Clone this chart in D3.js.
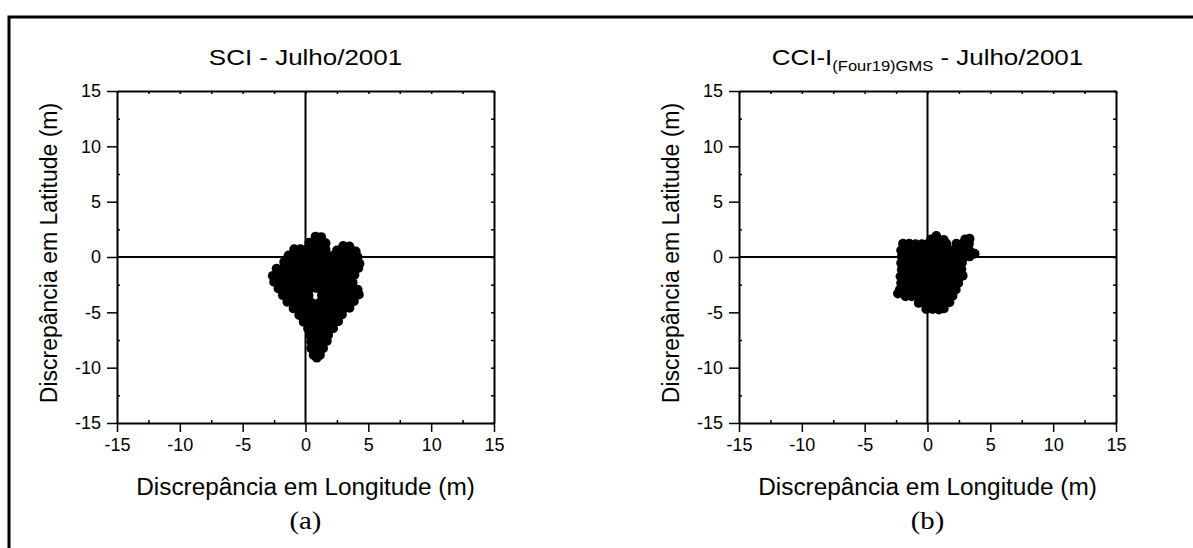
<!DOCTYPE html>
<html>
<head>
<meta charset="utf-8">
<script src="https://cdn.jsdelivr.net/npm/d3@7"></script>
<style>
  html, body { margin: 0; padding: 0; background: #fff; }
  svg { display: block; }
</style>
</head>
<body>
<svg id="chart" width="1193" height="548"></svg>
<script>
// Discrepancies in longitude / latitude (m), July 2001
const sciPoints = [
  [0.8,1.85],[1.25,1.8],
  [0.3,1.3],[0.75,1.3],[1.25,1.3],[1.6,1.25],
  [3.0,1.0],[3.5,0.95],
  [-0.9,0.7],[-0.4,0.7],[0.1,0.7],[0.6,0.7],[1.1,0.7],[1.6,0.65],[2.5,0.6],[3.0,0.6],[3.5,0.55],[4.0,0.5],
  [-1.35,0.15],[-0.85,0.15],[-0.35,0.15],[0.15,0.15],[0.65,0.15],[1.15,0.15],[1.65,0.15],[2.15,0.1],[2.65,0.15],[3.15,0.15],[3.65,0.1],[4.15,0.0],
  [-1.7,-0.45],[-1.2,-0.45],[-0.7,-0.45],[-0.2,-0.45],[0.3,-0.45],[0.8,-0.45],[1.3,-0.45],[1.8,-0.45],[2.3,-0.45],[2.8,-0.45],[3.3,-0.45],[3.8,-0.45],[4.3,-0.6],
  [-2.3,-1.05],[-1.8,-1.05],[-1.3,-1.05],[-0.8,-1.05],[-0.3,-1.05],[0.2,-1.05],[0.7,-1.05],[1.2,-1.05],[1.7,-1.05],[2.2,-1.05],[2.7,-1.05],[3.2,-1.05],[3.7,-1.05],[4.2,-1.0],
  [-2.6,-1.7],[-2.05,-1.65],[-1.55,-1.65],[-1.05,-1.65],[-0.55,-1.65],[-0.05,-1.65],[0.45,-1.65],[0.95,-1.65],[1.45,-1.65],[1.95,-1.65],[2.45,-1.65],[2.95,-1.65],[3.45,-1.65],[3.9,-1.6],
  [-2.5,-2.25],[-2.0,-2.25],[-1.5,-2.25],[-1.0,-2.25],[-0.5,-2.25],[0.0,-2.25],[0.5,-2.25],[1.0,-2.25],[1.5,-2.25],[2.0,-2.25],[2.5,-2.25],[3.0,-2.25],[3.5,-2.25],[3.75,-2.3],
  [-2.15,-2.85],[-1.65,-2.85],[-1.15,-2.85],[-0.65,-2.85],[-0.15,-2.85],[0.35,-2.85],[0.85,-2.8],[1.35,-2.85],[1.85,-2.85],[2.35,-2.85],[2.85,-2.85],[3.35,-2.85],[3.85,-2.85],[4.15,-2.95],
  [-1.8,-3.45],[-1.3,-3.45],[-0.8,-3.45],[-0.3,-3.45],[0.25,-3.45],[1.3,-3.45],[1.8,-3.45],[2.3,-3.45],[2.8,-3.45],[3.3,-3.45],[3.8,-3.45],[4.25,-3.4],
  [-1.45,-4.05],[-0.95,-4.05],[-0.45,-4.05],[0.05,-4.05],[0.5,-4.15],[1.1,-4.15],[1.6,-4.05],[2.05,-4.05],[2.55,-4.05],[3.05,-4.05],[3.55,-4.05],[3.85,-4.0],
  [-0.95,-4.65],[-0.45,-4.65],[0.05,-4.65],[0.55,-4.7],[1.05,-4.7],[1.55,-4.65],[2.05,-4.65],[2.55,-4.65],[3.05,-4.65],[3.5,-4.6],
  [-0.5,-5.25],[0.0,-5.25],[0.5,-5.25],[1.0,-5.25],[1.5,-5.25],[2.0,-5.25],[2.5,-5.25],[2.9,-5.2],
  [-0.15,-5.85],[0.35,-5.85],[0.85,-5.85],[1.35,-5.85],[1.85,-5.85],[2.35,-5.85],[2.6,-5.8],
  [0.2,-6.45],[0.7,-6.45],[1.2,-6.45],[1.7,-6.45],[2.2,-6.45],
  [0.35,-7.05],[0.85,-7.05],[1.35,-7.05],[1.8,-7.05],
  [0.45,-7.65],[0.95,-7.65],[1.45,-7.65],[1.7,-7.6],
  [0.45,-8.25],[0.95,-8.25],[1.4,-8.25],
  [0.65,-8.85],[1.15,-8.85],
  [0.9,-9.1]
];

const cciPoints = [
  [0.7,1.9],
  [0.3,1.6],[0.8,1.6],[1.3,1.55],[3.0,1.6],[3.35,1.65],
  [-1.95,1.2],[-1.45,1.2],[-0.95,1.15],[-0.45,1.15],[0.05,1.2],[0.55,1.2],[1.05,1.2],[1.5,1.2],[2.3,1.2],[2.8,1.2],[3.3,1.2],
  [-2.1,0.6],[-1.6,0.6],[-1.1,0.6],[-0.6,0.6],[-0.1,0.6],[0.4,0.6],[0.9,0.6],[1.4,0.6],[1.9,0.6],[2.4,0.6],[2.9,0.6],[3.4,0.5],[3.75,0.3],
  [-2.05,0.05],[-1.55,0.05],[-1.05,0.05],[-0.55,0.05],[-0.05,0.05],[0.45,0.05],[0.95,0.05],[1.45,0.05],[1.95,0.05],[2.45,0.05],[2.95,0.05],[3.35,0.05],
  [-2.1,-0.55],[-1.6,-0.55],[-1.1,-0.55],[-0.6,-0.55],[-0.1,-0.55],[0.4,-0.55],[0.9,-0.55],[1.4,-0.55],[1.9,-0.55],[2.4,-0.55],[2.75,-0.5],
  [-2.05,-1.15],[-1.55,-1.15],[-1.05,-1.15],[-0.55,-1.15],[-0.05,-1.15],[0.45,-1.15],[0.95,-1.15],[1.45,-1.15],[1.95,-1.15],[2.45,-1.15],[2.7,-1.1],
  [-2.15,-1.75],[-1.6,-1.75],[-1.1,-1.75],[-0.6,-1.75],[-0.1,-1.75],[0.4,-1.75],[0.9,-1.75],[1.4,-1.75],[1.9,-1.75],[2.4,-1.75],[2.8,-1.7],
  [-2.1,-2.35],[-1.55,-2.35],[-1.05,-2.35],[-0.55,-2.35],[-0.05,-2.35],[0.45,-2.35],[0.95,-2.35],[1.45,-2.35],[1.95,-2.35],[2.45,-2.35],
  [-2.2,-2.95],[-1.7,-2.95],[-1.2,-2.95],[-0.7,-2.95],[-0.2,-2.95],[0.3,-2.95],[0.8,-2.95],[1.3,-2.95],[1.8,-2.95],[2.25,-2.95],
  [-2.35,-3.3],
  [-1.75,-3.55],[-1.25,-3.55],[-0.75,-3.55],[-0.25,-3.55],[0.25,-3.55],[0.75,-3.55],[1.25,-3.55],[1.75,-3.55],[2.0,-3.5],
  [-0.7,-4.15],[-0.2,-4.15],[0.3,-4.15],[0.8,-4.15],[1.3,-4.15],[1.75,-4.1],
  [-0.1,-4.7],[0.4,-4.7],[0.9,-4.75],[1.3,-4.65]
];

const majorTicks = [-15, -10, -5, 0, 5, 10, 15];
const minorTicks = [-12.5, -7.5, -2.5, 2.5, 7.5, 12.5];
const axisDomain = [-15, 15];

const xTitle = "Discrepância em Longitude (m)";
const yTitle = "Discrepância em Latitude (m)";

const sans = "'Liberation Sans', Arial, sans-serif";
const serif = "'Liberation Serif', 'Times New Roman', serif";

const panels = [
  { points: sciPoints, x0: 117, x1: 494, tag: "(a)", title: [{ t: "SCI - Julho/2001" }] },
  { points: cciPoints, x0: 739, x1: 1116, tag: "(b)",
    title: [{ t: "CCI-I" }, { t: "(Four19)GMS", sub: true }, { t: " - Julho/2001" }] }
];
const yTop = 91, yBottom = 423;

const svg = d3.select("#chart");

// outer frame (open on the right and bottom edges of the page)
svg.append("rect")
  .attr("x", 9).attr("y", 17).attr("width", 1300).attr("height", 700)
  .attr("fill", "none").attr("stroke", "#000").attr("stroke-width", 3);

panels.forEach(p => {
  const x = d3.scaleLinear().domain(axisDomain).range([p.x0, p.x1]);
  const y = d3.scaleLinear().domain(axisDomain).range([yBottom, yTop]);
  const g = svg.append("g");
  const cx = (p.x0 + p.x1) / 2;

  // points
  g.append("g").selectAll("circle").data(p.points).join("circle")
    .attr("cx", d => x(d[0])).attr("cy", d => y(d[1])).attr("r", 4.9)
    .attr("fill", "#000");

  // zero lines
  g.append("line").attr("x1", x(-15)).attr("x2", x(15)).attr("y1", y(0)).attr("y2", y(0))
    .attr("stroke", "#000").attr("stroke-width", 2);
  g.append("line").attr("x1", x(0)).attr("x2", x(0)).attr("y1", y(-15)).attr("y2", y(15))
    .attr("stroke", "#000").attr("stroke-width", 2);

  const style = sel => {
    sel.select(".domain").attr("stroke-width", 2);
    sel.selectAll(".tick line").attr("stroke-width", 1.5);
  };
  const fmt = d => String(d);

  // bottom axis, major ticks outward with labels
  const bx = g.append("g").attr("transform", `translate(0,${yBottom})`)
    .call(d3.axisBottom(x).tickValues(majorTicks).tickSize(9).tickSizeOuter(0).tickPadding(6)
      .tickFormat(fmt));
  bx.attr("font-family", sans).attr("font-size", 18);
  style(bx);
  g.append("g").attr("transform", `translate(0,${yBottom})`)
    .call(d3.axisBottom(x).tickValues(minorTicks).tickSize(-3).tickFormat(""))
    .call(s => s.select(".domain").remove()).call(style);

  // left axis
  const ly = g.append("g").attr("transform", `translate(${p.x0},0)`)
    .call(d3.axisLeft(y).tickValues(majorTicks).tickSize(10).tickSizeOuter(0).tickPadding(6)
      .tickFormat(fmt));
  ly.attr("font-family", sans).attr("font-size", 18);
  style(ly);
  g.append("g").attr("transform", `translate(${p.x0},0)`)
    .call(d3.axisLeft(y).tickValues(minorTicks).tickSize(-3).tickFormat(""))
    .call(s => s.select(".domain").remove()).call(style);

  // top and right axes, ticks inward
  g.append("g").attr("transform", `translate(0,${yTop})`)
    .call(d3.axisTop(x).tickValues(majorTicks.concat(minorTicks)).tickSize(-3).tickSizeOuter(0).tickFormat(""))
    .call(style);
  g.append("g").attr("transform", `translate(${p.x1},0)`)
    .call(d3.axisRight(y).tickValues(majorTicks.concat(minorTicks)).tickSize(-3).tickSizeOuter(0).tickFormat(""))
    .call(style);

  // title
  const tt = g.append("text").attr("transform", `translate(${cx},65) scale(1.18,1)`)
    .attr("text-anchor", "middle").attr("font-family", sans).attr("font-size", 22);
  p.title.forEach((s, i) => {
    const ts = tt.append("tspan").text(s.t);
    if (s.sub) ts.attr("font-size", 14).attr("dy", 6);
    else if (i > 0) ts.attr("dy", -6);
  });

  // axis titles
  g.append("text").attr("transform", `translate(${cx},495) scale(1.06,1)`)
    .attr("text-anchor", "middle").attr("font-family", sans).attr("font-size", 23).text(xTitle);
  g.append("text").attr("transform", `translate(${p.x0 - 60},253) rotate(-90)`)
    .attr("text-anchor", "middle").attr("font-family", sans).attr("font-size", 23).text(yTitle);

  // panel tag
  g.append("text").attr("transform", `translate(${cx},529) scale(1.15,1)`)
    .attr("text-anchor", "middle").attr("font-family", serif).attr("font-size", 25).text(p.tag);
});
</script>
</body>
</html>
